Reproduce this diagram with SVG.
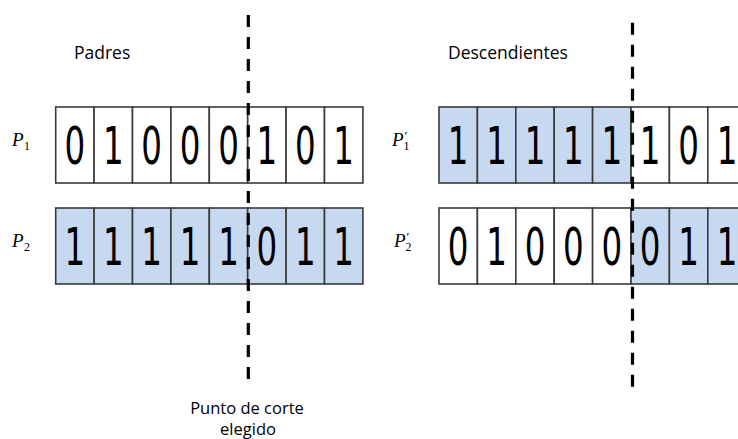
<svg xmlns="http://www.w3.org/2000/svg" width="738" height="439" viewBox="0 0 738 439">
  <style>
    .cell { stroke: #3a3a3a; stroke-width: 1.6; }
    .w { fill: #ffffff; }
    .b { fill: #c6d9f1; }
    .bit { font-family: "DejaVu Sans", sans-serif; font-size: 32.5px; fill: #000; text-anchor: middle; }
    .head { font-family: "Open Sans", "Noto Sans", sans-serif; font-size: 17.5px; fill: #000; }
    .note { font-family: "Open Sans", "Noto Sans", sans-serif; font-size: 16.5px; fill: #000; text-anchor: middle; }
    .var { font-family: "Liberation Serif", serif; font-style: italic; font-size: 19px; fill: #000; }
    .sub { font-style: normal; font-size: 12px; }
    .pr { font-style: normal; font-size: 13px; }
    .cut { stroke: #000; stroke-width: 3.2; stroke-dasharray: 12 10; fill: none; }
  </style>

  <!-- headings -->
  <text class="head" x="74" y="59">Padres</text>
  <text class="head" x="448" y="59">Descendientes</text>

  <!-- parent 1 -->
  <g id="P1">
    <text class="var" x="12" y="146">P<tspan class="sub" dx="0.5" dy="4">1</tspan></text>
    <rect class="cell w" x="55.7" y="107" width="38.4" height="76"/>
    <rect class="cell w" x="94.1" y="107" width="38.4" height="76"/>
    <rect class="cell w" x="132.5" y="107" width="38.4" height="76"/>
    <rect class="cell w" x="170.9" y="107" width="38.4" height="76"/>
    <rect class="cell w" x="209.3" y="107" width="38.4" height="76"/>
    <rect class="cell w" x="247.7" y="107" width="38.4" height="76"/>
    <rect class="cell w" x="286.1" y="107" width="38.4" height="76"/>
    <rect class="cell w" x="324.5" y="107" width="38.4" height="76"/>
    <text class="bit" transform="translate(74.9 164) scale(1 1.56)">0</text>
    <text class="bit" transform="translate(113.3 164) scale(1 1.56)">1</text>
    <text class="bit" transform="translate(151.7 164) scale(1 1.56)">0</text>
    <text class="bit" transform="translate(190.1 164) scale(1 1.56)">0</text>
    <text class="bit" transform="translate(228.5 164) scale(1 1.56)">0</text>
    <text class="bit" transform="translate(266.9 164) scale(1 1.56)">1</text>
    <text class="bit" transform="translate(305.3 164) scale(1 1.56)">0</text>
    <text class="bit" transform="translate(343.7 164) scale(1 1.56)">1</text>
  </g>

  <!-- parent 2 -->
  <g id="P2">
    <text class="var" x="12" y="247">P<tspan class="sub" dx="0.5" dy="4">2</tspan></text>
    <rect class="cell b" x="55.7" y="208" width="38.4" height="76"/>
    <rect class="cell b" x="94.1" y="208" width="38.4" height="76"/>
    <rect class="cell b" x="132.5" y="208" width="38.4" height="76"/>
    <rect class="cell b" x="170.9" y="208" width="38.4" height="76"/>
    <rect class="cell b" x="209.3" y="208" width="38.4" height="76"/>
    <rect class="cell b" x="247.7" y="208" width="38.4" height="76"/>
    <rect class="cell b" x="286.1" y="208" width="38.4" height="76"/>
    <rect class="cell b" x="324.5" y="208" width="38.4" height="76"/>
    <text class="bit" transform="translate(74.9 265) scale(1 1.56)">1</text>
    <text class="bit" transform="translate(113.3 265) scale(1 1.56)">1</text>
    <text class="bit" transform="translate(151.7 265) scale(1 1.56)">1</text>
    <text class="bit" transform="translate(190.1 265) scale(1 1.56)">1</text>
    <text class="bit" transform="translate(228.5 265) scale(1 1.56)">1</text>
    <text class="bit" transform="translate(266.9 265) scale(1 1.56)">0</text>
    <text class="bit" transform="translate(305.3 265) scale(1 1.56)">1</text>
    <text class="bit" transform="translate(343.7 265) scale(1 1.56)">1</text>
  </g>

  <!-- offspring 1 -->
  <g id="P1prime">
    <text class="var" x="392" y="146">P<tspan class="pr" dx="1" dy="-6">′</tspan><tspan class="sub" dx="-4" dy="10">1</tspan></text>
    <rect class="cell b" x="439" y="107" width="38.4" height="76"/>
    <rect class="cell b" x="477.4" y="107" width="38.4" height="76"/>
    <rect class="cell b" x="515.8" y="107" width="38.4" height="76"/>
    <rect class="cell b" x="554.2" y="107" width="38.4" height="76"/>
    <rect class="cell b" x="592.6" y="107" width="38.4" height="76"/>
    <rect class="cell w" x="631" y="107" width="38.4" height="76"/>
    <rect class="cell w" x="669.4" y="107" width="38.4" height="76"/>
    <rect class="cell w" x="707.8" y="107" width="38.4" height="76"/>
    <text class="bit" transform="translate(458.2 164) scale(1 1.56)">1</text>
    <text class="bit" transform="translate(496.6 164) scale(1 1.56)">1</text>
    <text class="bit" transform="translate(535 164) scale(1 1.56)">1</text>
    <text class="bit" transform="translate(573.4 164) scale(1 1.56)">1</text>
    <text class="bit" transform="translate(611.8 164) scale(1 1.56)">1</text>
    <text class="bit" transform="translate(650.2 164) scale(1 1.56)">1</text>
    <text class="bit" transform="translate(688.6 164) scale(1 1.56)">0</text>
    <text class="bit" transform="translate(727 164) scale(1 1.56)">1</text>
  </g>

  <!-- offspring 2 -->
  <g id="P2prime">
    <text class="var" x="394" y="247">P<tspan class="pr" dx="1" dy="-6">′</tspan><tspan class="sub" dx="-4" dy="10">2</tspan></text>
    <rect class="cell w" x="439" y="208" width="38.4" height="76"/>
    <rect class="cell w" x="477.4" y="208" width="38.4" height="76"/>
    <rect class="cell w" x="515.8" y="208" width="38.4" height="76"/>
    <rect class="cell w" x="554.2" y="208" width="38.4" height="76"/>
    <rect class="cell w" x="592.6" y="208" width="38.4" height="76"/>
    <rect class="cell b" x="631" y="208" width="38.4" height="76"/>
    <rect class="cell b" x="669.4" y="208" width="38.4" height="76"/>
    <rect class="cell b" x="707.8" y="208" width="38.4" height="76"/>
    <text class="bit" transform="translate(458.2 265) scale(1 1.56)">0</text>
    <text class="bit" transform="translate(496.6 265) scale(1 1.56)">1</text>
    <text class="bit" transform="translate(535 265) scale(1 1.56)">0</text>
    <text class="bit" transform="translate(573.4 265) scale(1 1.56)">0</text>
    <text class="bit" transform="translate(611.8 265) scale(1 1.56)">0</text>
    <text class="bit" transform="translate(650.2 265) scale(1 1.56)">0</text>
    <text class="bit" transform="translate(688.6 265) scale(1 1.56)">1</text>
    <text class="bit" transform="translate(727 265) scale(1 1.56)">1</text>
  </g>

  <!-- crossover cut lines -->
  <g id="cut-lines">
    <line class="cut" x1="248.3" y1="15" x2="248.3" y2="380"/>
    <line class="cut" x1="632.5" y1="22.7" x2="632.5" y2="388"/>
  </g>

  <text class="note" x="247" y="414">Punto de corte<tspan x="248" dy="21">elegido</tspan></text>
</svg>
